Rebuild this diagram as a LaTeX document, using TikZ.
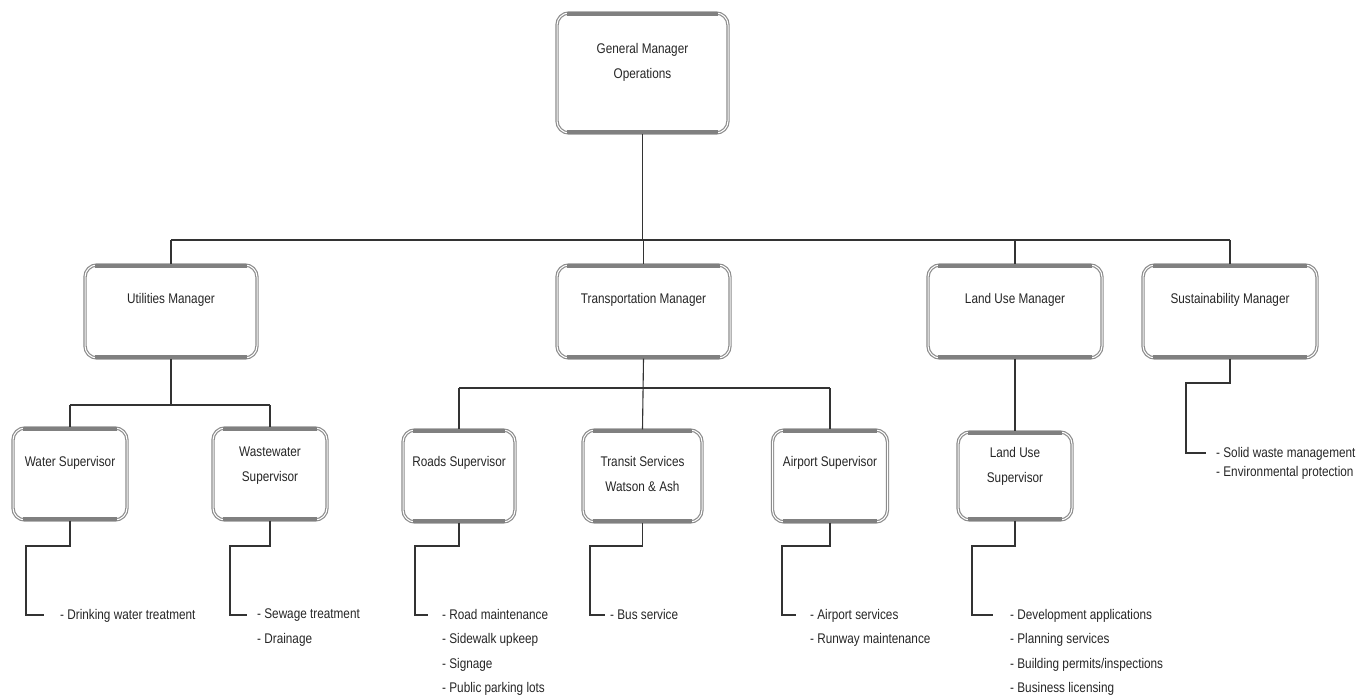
\documentclass[tikz,border=0pt]{standalone}
\usepackage{fontspec}
\setmainfont{Liberation Sans}[FakeStretch=0.84]
\begin{document}
\begin{tikzpicture}[x=1pt,y=-1pt,
  bar/.style={draw=gray, line width=4pt},
  orgbox/.style={draw=gray!90, line width=1.2pt, double=white, double distance=1pt,
    fill=white, rounded corners=12pt, inner sep=0pt},
  boxtext/.style={font=\fontsize{14}{25}\selectfont, align=center, text=black!85, inner sep=0pt},
  listtext/.style={font=\fontsize{14}{24.5}\selectfont, align=left, text=black!85, inner sep=0pt, anchor=north west},
  link/.style={draw=gray!40!black, line width=1.1pt}
]
\useasboundingbox (0,0) rectangle (1366,696);

% ---- top level
\node[orgbox, minimum width=171pt, minimum height=120pt] (gm) at (642.5,73) {};
\node[boxtext] (gm-t) at (642.5,62) {General Manager\\Operations};

% ---- managers
\node[orgbox, minimum width=172pt, minimum height=93pt] (um) at (171,311.5) {};
\node[boxtext] (um-t) at (171,300) {Utilities Manager};
\node[orgbox, minimum width=173pt, minimum height=93pt] (tm) at (643.5,311.5) {};
\node[boxtext] (tm-t) at (643.5,300) {Transportation Manager};
\node[orgbox, minimum width=174pt, minimum height=93pt] (lm) at (1015,311.5) {};
\node[boxtext] (lm-t) at (1015,300) {Land Use Manager};
\node[orgbox, minimum width=174pt, minimum height=93pt] (sm) at (1230,311.5) {};
\node[boxtext] (sm-t) at (1230,300) {Sustainability Manager};

% ---- supervisors
\node[orgbox, minimum width=114pt, minimum height=92pt] (ws) at (70,474) {};
\node[boxtext] (ws-t) at (70,463) {Water Supervisor};
\node[orgbox, minimum width=114pt, minimum height=92pt] (ww) at (270,474) {};
\node[boxtext] (ww-t) at (270,466) {Wastewater\\Supervisor};
\node[orgbox, minimum width=112pt, minimum height=92pt] (rs) at (459,476) {};
\node[boxtext] (rs-t) at (459,463) {Roads Supervisor};
\node[orgbox, minimum width=119pt, minimum height=92pt] (ts) at (642.5,476) {};
\node[boxtext] (ts-t) at (642.5,474) {Transit Services\\Watson \& Ash};
\node[orgbox, minimum width=115pt, minimum height=92pt] (as) at (830,476) {};
\node[boxtext] (as-t) at (830,463) {Airport Supervisor};
\node[orgbox, minimum width=114pt, minimum height=88pt] (ls) at (1015,476) {};
\node[boxtext] (ls-t) at (1015,466) {Land Use\\Supervisor};

% ---- heavier top and bottom edges of every box
\foreach \n in {gm,um,tm,lm,sm,ws,ww,rs,ts,as,ls} {
  \draw[bar] ([xshift=11pt,yshift=-2pt]\n.north west) -- ([xshift=-11pt,yshift=-2pt]\n.north east);
  \draw[bar] ([xshift=11pt,yshift=2pt]\n.south west) -- ([xshift=-11pt,yshift=2pt]\n.south east);
}

% ---- duty lists
\node[listtext] (ws-l) at (60,609) {- Drinking water treatment};
\node[listtext] (ww-l) at (257,609) {- Sewage treatment\\- Drainage};
\node[listtext] (rs-l) at (442,609) {- Road maintenance\\- Sidewalk upkeep\\- Signage\\- Public parking lots};
\node[listtext] (ts-l) at (610,609) {- Bus service};
\node[listtext] (as-l) at (810,609) {- Airport services\\- Runway maintenance};
\node[listtext] (ls-l) at (1010,609) {- Development applications\\- Planning services\\- Building permits/inspections\\- Business licensing};
\node[listtext, font=\fontsize{14}{19}\selectfont] (sm-l) at (1216,447) {- Solid waste management\\- Environmental protection};

% ---- bus lines
\coordinate (bus) at (0,240);
\coordinate (ubus) at (0,405);
\coordinate (tbus) at (0,388);
\coordinate (lbend) at (0,546);
\coordinate (sbend) at (0,383);

\draw[link] (gm.south) -- (gm.south |- bus);
\draw[link] (um.north |- bus) -- (sm.north |- bus);
\foreach \n in {um,tm,lm,sm} \draw[link] (\n.north |- bus) -- (\n.north);

\draw[link] (um.south) -- (um.south |- ubus);
\draw[link] (ws.north |- ubus) -- (ww.north |- ubus);
\foreach \n in {ws,ww} \draw[link] (\n.north |- ubus) -- (\n.north);

\draw[link] (tm.south) -- (ts.north);
\draw[link] (rs.north |- tbus) -- (as.north |- tbus);
\foreach \n in {rs,as} \draw[link] (\n.north |- tbus) -- (\n.north);

\draw[link] (lm.south) -- (ls.north);

% ---- elbows to the duty lists
\coordinate (ws-k) at (26,615);   \coordinate (ws-e) at (44,615);
\coordinate (ww-k) at (230,615);  \coordinate (ww-e) at (247,615);
\coordinate (rs-k) at (415,615);  \coordinate (rs-e) at (428,615);
\coordinate (ts-k) at (590,615);  \coordinate (ts-e) at (605,615);
\coordinate (as-k) at (782,615);  \coordinate (as-e) at (796,615);
\coordinate (ls-k) at (972,615);  \coordinate (ls-e) at (993,615);
\foreach \n in {ws,ww,rs,ts,as,ls}
  \draw[link] (\n.south) -- (\n.south |- lbend) -| (\n-k) -- (\n-e);

\coordinate (sm-k) at (1186,453); \coordinate (sm-e) at (1206,453);
\draw[link] (sm.south) -- (sm.south |- sbend) -| (sm-k) -- (sm-e);
\end{tikzpicture}
\end{document}
